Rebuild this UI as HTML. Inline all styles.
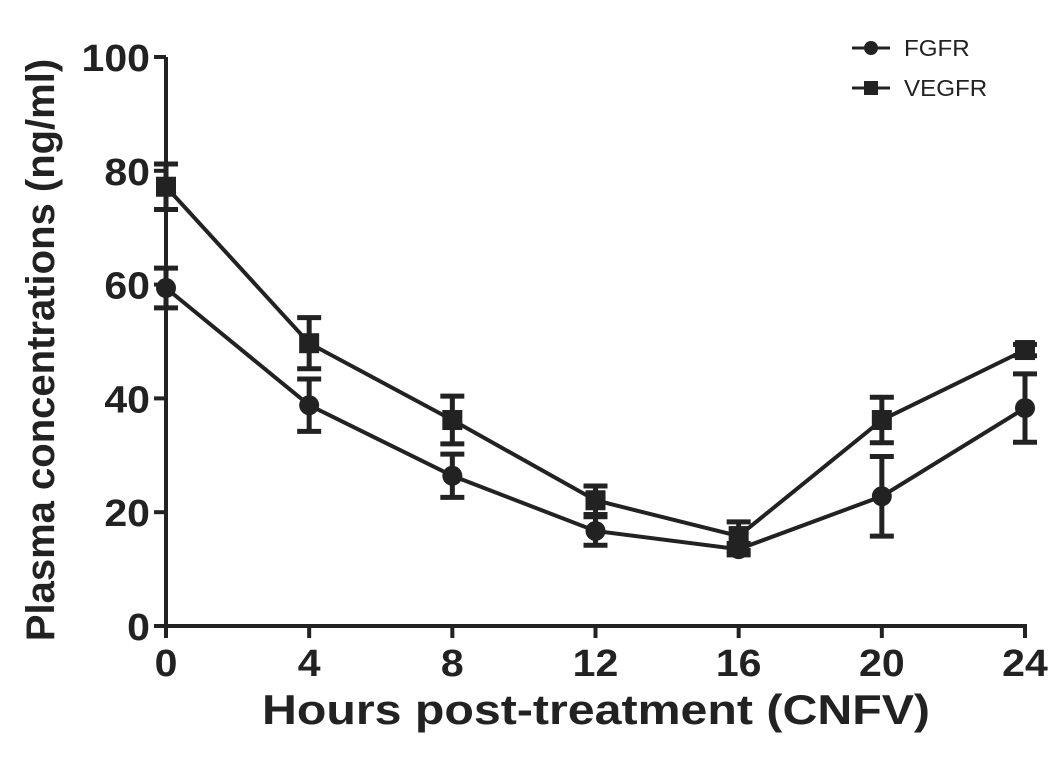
<!DOCTYPE html>
<html><head><meta charset="utf-8"><style>
body{margin:0;background:#fff;}
svg{display:block;font-family:"Liberation Sans",Arial,sans-serif;}
</style></head><body>
<svg id="chart" width="1063" height="767" viewBox="0 0 1063 767"></svg>
<script>
const hours=[0,4,8,12,16,20,24];
const fgfr=[59.4,38.8,26.4,16.7,13.5,22.8,38.3];
const fgfrErr=[3.5,4.6,3.8,2.5,1.0,7.0,6.0];
const vegfr=[77.2,49.7,36.2,22.1,15.8,36.2,48.5];
const vegfrErr=[4.0,4.5,4.2,2.5,2.5,4.0,1.0];
const yTicks=[0,20,40,60,80,100];
const xTicks=[0,4,8,12,16,20,24];
const NS='http://www.w3.org/2000/svg';
const svg=document.getElementById('chart');
const X=v=>166+v*(1025-166)/24;
const Y=v=>626-v*(626-57)/100;
function mk(t,a,p){const e=document.createElementNS(NS,t);for(const k in a)e.setAttribute(k,a[k]);(p||svg).appendChild(e);return e;}
function txt(x,y,s,anchor,size,bold,rot,sx,p){
 const tr=rot?`translate(${x},${y}) rotate(-90) scale(${sx},1)`:`translate(${x},${y}) scale(${sx},1)`;
 const t=mk('text',{x:0,y:0,'text-anchor':anchor,'font-size':size,'font-weight':bold?'bold':'normal',fill:'#222',transform:tr},p);
 t.textContent=s;return t;
}
let ax=mk('line',{x1:X(0),y1:Y(0),x2:X(0),y2:Y(100),stroke:'#222','stroke-width':4});

ax=mk('line',{x1:X(0)-2,y1:Y(0),x2:X(24)+2,y2:Y(0),stroke:'#222','stroke-width':4});

yTicks.forEach(t=>{
 const l=mk('line',{x1:X(0)-12,y1:Y(t),x2:X(0),y2:Y(t),stroke:'#222','stroke-width':4});
 
 const tx=txt(X(0)-16,Y(t)+14,String(t),'end',38,true,false,1.08);
 
});
xTicks.forEach(t=>{
 const l=mk('line',{x1:X(t),y1:Y(0),x2:X(t),y2:Y(0)+12,stroke:'#222','stroke-width':4});
 
 const tx=txt(X(t),676,String(t),'middle',38,true,false,1.08);
 
});
let tt=txt(596,724,'Hours post-treatment (CNFV)','middle',42,true,false,1.15);

tt=txt(54,350,'Plasma concentrations (ng/ml)','middle',40,true,true,1.0);

function series(vals,errs,shape,name){
 const g=mk('g',{});
 const ln=mk('polyline',{points:hours.map((h,i)=>X(h)+','+Y(vals[i])).join(' '),fill:'none',stroke:'#222','stroke-width':4},g);
 
 hours.forEach((h,i)=>{
  const x=X(h),y1=Y(vals[i]+errs[i]),y2=Y(vals[i]-errs[i]);
  const e=mk('path',{d:`M${x},${y1}V${y2}M${x-12},${y1}H${x+12}M${x-12},${y2}H${x+12}`,stroke:'#222','stroke-width':5,fill:'none'},g);
  
  let m;
  if(shape==='circle')m=mk('circle',{cx:x,cy:Y(vals[i]),r:10,fill:'#222'},g);
  else m=mk('rect',{x:x-10,y:Y(vals[i])-10,width:20,height:20,fill:'#222'},g);
  
 });
}
series(fgfr,fgfrErr,'circle','fgfr');
series(vegfr,vegfrErr,'square','vegfr');
[['FGFR','circle',48],['VEGFR','square',88]].forEach(([lab,sh,y])=>{
 const g=mk('g',{});
 mk('line',{x1:852,y1:y,x2:890,y2:y,stroke:'#222','stroke-width':3},g);
 if(sh==='circle')mk('circle',{cx:871,cy:y,r:7,fill:'#222'},g);else mk('rect',{x:864,y:y-7,width:14,height:14,fill:'#222'},g);
 txt(904,y+8,lab,'start',23,false,false,1.05,g);
});
</script>
</body></html>
